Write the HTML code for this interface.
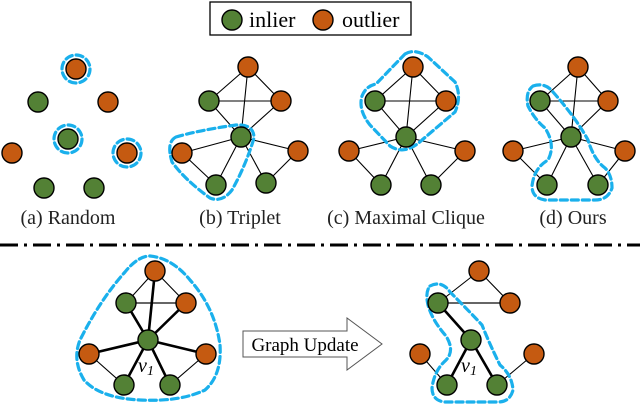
<!DOCTYPE html>
<html><head><style>body{margin:0;background:#fff}svg{display:block}</style></head><body>
<svg width="640" height="407" viewBox="0 0 640 407" xmlns="http://www.w3.org/2000/svg" font-family="Liberation Serif, serif">
<defs>
<style>
.g{fill:#538135;stroke:#000;stroke-width:1.4}
.o{fill:#c55a11;stroke:#000;stroke-width:1.4}
.e{stroke:#000;stroke-width:1.1;fill:none}
.t{stroke:#000;stroke-width:2.6;fill:none}
.gr{stroke:#666;stroke-width:2;fill:none}
.d{stroke:#1ab0ec;stroke-width:3.2;stroke-dasharray:7 4;fill:none;stroke-linecap:round}
circle.g,circle.o{r:10px}
</style>
</defs>
<rect x="210" y="2" width="201" height="33" fill="#fff" stroke="#000" stroke-width="1.3"/>
<circle class="g" cx="232" cy="20" r="10"/><text x="249" y="27" font-size="22">inlier</text>
<circle class="o" cx="323" cy="20" r="10"/><text x="342" y="27" font-size="22">outlier</text>

<circle class="d" cx="76" cy="69" r="14"/>
<circle class="d" cx="68" cy="139" r="14"/>
<circle class="d" cx="127" cy="153" r="14"/>
<circle class="o" cx="76" cy="69" r="10"/>
<circle class="g" cx="38" cy="102" r="10"/>
<circle class="o" cx="108" cy="102" r="10"/>
<circle class="g" cx="68" cy="139" r="10"/>
<circle class="o" cx="12" cy="153" r="10"/>
<circle class="o" cx="127" cy="153" r="10"/>
<circle class="g" cx="44" cy="188" r="10"/>
<circle class="g" cx="94" cy="188" r="10"/>

<path class="e" d="M248 67L209 101M248 67L281 101M248 67L241 137M209 101L281 101M209 101L241 137M281 101L241 137M241 137L182 153M241 137L298 151M241 137L216 185M241 137L266 183M182 153L216 185M298 151L266 183"/>
<path class="d" d="M176 137 Q 200 130 236 125 Q 254 124 254 138 Q 246 165 232 190 Q 222 203 210 198 Q 185 180 172 162 Q 166 142 176 137 Z"/>
<circle class="o" cx="248" cy="67" r="10"/>
<circle class="g" cx="209" cy="101" r="10"/>
<circle class="o" cx="281" cy="101" r="10"/>
<circle class="g" cx="241" cy="137" r="10"/>
<circle class="o" cx="182" cy="153" r="10"/>
<circle class="o" cx="298" cy="151" r="10"/>
<circle class="g" cx="216" cy="185" r="10"/>
<circle class="g" cx="266" cy="183" r="10"/>

<path class="e" d="M413 67L375 101M413 67L446 101M413 67L406 137M375 101L446 101M375 101L406 137M446 101L406 137M406 137L349 151M406 137L465 151M406 137L381 185M406 137L431 185M349 151L381 185M465 151L431 185"/>
<path class="d" d="M405 54 Q 415 48 428 57 L 455 82 Q 462 96 455 112 L 422 140 Q 405 156 390 146 L 370 125 Q 358 110 362 96 Q 366 86 376 84 Z"/>
<circle class="o" cx="413" cy="67" r="10"/>
<circle class="g" cx="375" cy="101" r="10"/>
<circle class="o" cx="446" cy="101" r="10"/>
<circle class="g" cx="406" cy="137" r="10"/>
<circle class="o" cx="349" cy="151" r="10"/>
<circle class="o" cx="465" cy="151" r="10"/>
<circle class="g" cx="381" cy="185" r="10"/>
<circle class="g" cx="431" cy="185" r="10"/>

<path class="e" d="M578 67L540 101M578 67L608 101M578 67L571 137M540 101L608 101M540 101L571 137M608 101L571 137M571 137L513 151M571 137L625 151M571 137L547 185M571 137L598 185M513 151L547 185M625 151L598 185"/>
<path class="d" d="M533 86 Q 545 82 553 92 Q 576 118 588 140 Q 594 160 605 168 Q 612 175 612 188 Q 608 200 595 200 L 545 200 Q 532 198 532 186 Q 534 168 548 160 Q 556 145 545 128 Q 535 120 528 106 Q 525 92 533 86 Z"/>
<circle class="o" cx="578" cy="67" r="10"/>
<circle class="g" cx="540" cy="101" r="10"/>
<circle class="o" cx="608" cy="101" r="10"/>
<circle class="g" cx="571" cy="137" r="10"/>
<circle class="o" cx="513" cy="151" r="10"/>
<circle class="o" cx="625" cy="151" r="10"/>
<circle class="g" cx="547" cy="185" r="10"/>
<circle class="g" cx="598" cy="185" r="10"/>

<g font-size="20" text-anchor="middle" fill="#222">
<text x="68" y="224">(a) Random</text>
<text x="240" y="224">(b) Triplet</text>
<text x="406" y="224">(c) Maximal Clique</text>
<text x="573" y="224">(d) Ours</text>
</g>

<line x1="0" y1="245" x2="640" y2="245" stroke="#000" stroke-width="3" stroke-dasharray="18 6 3 6"/>

<path class="d" d="M150 256 Q 172 258 190 280 Q 215 308 220 345 Q 222 375 205 390 Q 180 402 140 400 Q 100 398 84 380 Q 72 360 80 340 Q 100 300 125 272 Q 138 256 150 256 Z"/>
<path class="e" d="M155 271L126 303M155 271L186 303M89 354L124 385M206 354L170 385"/>
<path class="gr" d="M126 303L186 303"/>
<path class="t" d="M148 340L155 271M148 340L126 303M148 340L186 303M148 340L89 354M148 340L206 354M148 340L124 385M148 340L170 385"/>
<circle class="o" cx="155" cy="271" r="10"/>
<circle class="g" cx="126" cy="303" r="10"/>
<circle class="o" cx="186" cy="303" r="10"/>
<circle class="g" cx="148" cy="340" r="10"/>
<circle class="o" cx="89" cy="354" r="10"/>
<circle class="o" cx="206" cy="354" r="10"/>
<circle class="g" cx="124" cy="385" r="10"/>
<circle class="g" cx="170" cy="385" r="10"/>
<text x="146" y="372" font-size="20" font-style="italic" text-anchor="middle">v<tspan font-size="14" dy="3">1</tspan></text>

<path d="M243 331 L347 331 L347 318 L382 344 L347 370 L347 357 L243 357 Z" fill="#fff" stroke="#555" stroke-width="1"/>
<text x="305" y="351" font-size="19" text-anchor="middle">Graph Update</text>

<path class="e" d="M479 271L438 303M479 271L510 303M420 354L447 385M534 354L497 385"/>
<path class="gr" d="M438 303L510 303"/>
<path class="t" d="M438 303L471 340M471 340L447 385M471 340L497 385"/>
<path class="d" d="M430 286 Q 442 280 450 292 Q 470 312 482 325 Q 490 345 500 365 Q 512 375 513 390 Q 510 402 498 402 L 444 402 Q 432 400 432 388 Q 434 372 444 362 Q 456 352 446 336 Q 432 320 428 305 Q 425 292 430 286 Z"/>
<circle class="o" cx="479" cy="271" r="10"/>
<circle class="g" cx="438" cy="303" r="10"/>
<circle class="o" cx="510" cy="303" r="10"/>
<circle class="g" cx="471" cy="340" r="10"/>
<circle class="o" cx="420" cy="354" r="10"/>
<circle class="o" cx="534" cy="354" r="10"/>
<circle class="g" cx="447" cy="385" r="10"/>
<circle class="g" cx="497" cy="385" r="10"/>
<text x="469" y="372" font-size="20" font-style="italic" text-anchor="middle">v<tspan font-size="14" dy="3">1</tspan></text>
</svg>
</body></html>
